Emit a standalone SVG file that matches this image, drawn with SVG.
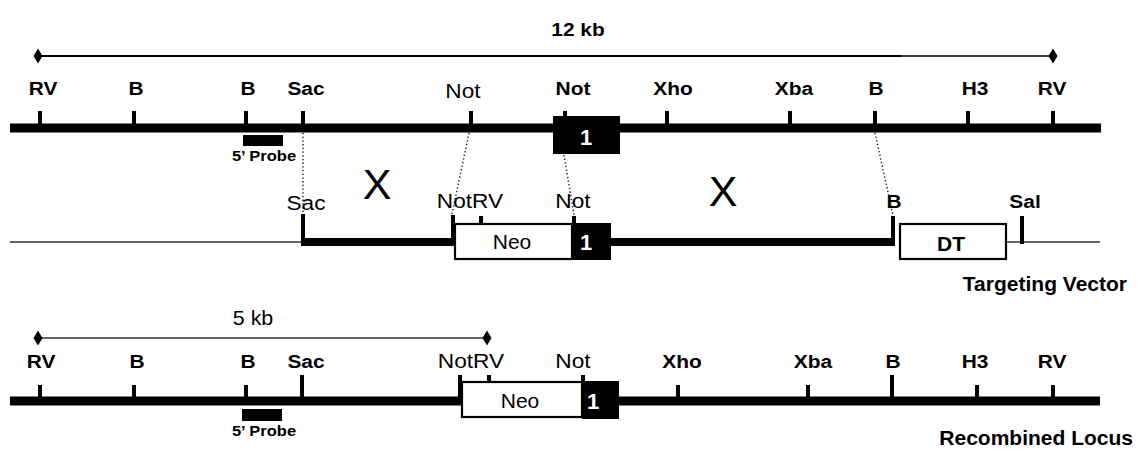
<svg xmlns="http://www.w3.org/2000/svg" width="1140" height="453" viewBox="0 0 1140 453">
<defs>
<style>
text{font-family:"Liberation Sans",Arial,sans-serif;fill:#000;text-anchor:middle}
.lb{font-size:19px;font-weight:bold}
.lr{font-size:21px}
.sm{font-size:15px;font-weight:bold}
.ttl{font-size:21px;font-weight:bold;text-anchor:end}
.xx{font-size:43px}
.neo{font-size:21px}
.ex{font-size:22px;font-weight:bold;fill:#fff}
.tk{stroke:#000;stroke-width:4}
.dna{stroke:#000;stroke-width:9}
.vec{stroke:#000;stroke-width:8}
.thin{stroke:#333;stroke-width:1.5}
.dot{stroke:#222;stroke-width:1.5;stroke-dasharray:1.3 2.4;fill:none}
.box{fill:#fff;stroke:#000;stroke-width:2.2}
</style>
<marker id="dia" viewBox="-5 -8 10 16" markerWidth="10" markerHeight="16" refX="0" refY="0" markerUnits="userSpaceOnUse" orient="auto">
<path d="M0,-7.5 L4.5,0 L0,7.5 L-4.5,0 Z" fill="#000"/>
</marker>
</defs>

<g id="wildtype-locus">
<text class="lb" transform="translate(578 36) scale(1.1 1)">12 kb</text>
<line stroke="#000" stroke-width="2.2" x1="38" y1="56" x2="901" y2="56" marker-start="url(#dia)"/>
<line stroke="#000" stroke-width="1.3" x1="900" y1="56" x2="1053" y2="56" marker-end="url(#dia)"/>
<line class="dna" x1="10" y1="128" x2="1101" y2="128"/>
<g id="wt-ticks">
<line class="tk" x1="40" y1="111" x2="40" y2="128"/>
<line class="tk" x1="134" y1="111" x2="134" y2="128"/>
<line class="tk" x1="246" y1="111" x2="246" y2="128"/>
<line class="tk" x1="303" y1="111" x2="303" y2="128"/>
<line class="tk" x1="471" y1="111" x2="471" y2="128"/>
<line class="tk" x1="565" y1="111" x2="565" y2="118"/>
<line class="tk" x1="667" y1="111" x2="667" y2="128"/>
<line class="tk" x1="790" y1="111" x2="790" y2="128"/>
<line class="tk" x1="875" y1="111" x2="875" y2="128"/>
<line class="tk" x1="968" y1="111" x2="968" y2="128"/>
<line class="tk" x1="1053" y1="111" x2="1053" y2="128"/>
</g>
<g id="wt-labels">
<text class="lb" transform="translate(43 95) scale(1.1 1)">RV</text>
<text class="lb" transform="translate(136 95) scale(1.1 1)">B</text>
<text class="lb" transform="translate(248 95) scale(1.1 1)">B</text>
<text class="lb" transform="translate(306 95) scale(1.1 1)">Sac</text>
<text class="lr" transform="translate(463 98) scale(1.08 1)">Not</text>
<text class="lb" transform="translate(573 95) scale(1.1 1)">Not</text>
<text class="lb" transform="translate(673 95) scale(1.1 1)">Xho</text>
<text class="lb" transform="translate(794 95) scale(1.1 1)">Xba</text>
<text class="lb" transform="translate(876 95) scale(1.1 1)">B</text>
<text class="lb" transform="translate(975 95) scale(1.1 1)">H3</text>
<text class="lb" transform="translate(1052 95) scale(1.1 1)">RV</text>
</g>
<g id="wt-exon1">
<rect x="553" y="116" width="67" height="38" fill="#000"/>
<text class="ex" x="586" y="145">1</text>
</g>
<g id="wt-probe">
<rect x="243" y="135" width="40" height="11" fill="#000"/>
<text class="sm" transform="translate(264 161) scale(1.1 1)">5’ Probe</text>
</g>
</g>

<g id="connectors">
<line class="dot" x1="303" y1="133" x2="303" y2="214"/>
<line class="dot" x1="469" y1="133" x2="452" y2="214"/>
<line class="dot" x1="564" y1="155" x2="574" y2="215"/>
<line class="dot" x1="875" y1="133" x2="893" y2="215"/>
</g>

<g id="crossovers">
<text class="xx" x="377" y="199">X</text>
<text class="xx" x="723" y="206">X</text>
</g>

<g id="targeting-vector">
<line class="thin" x1="10" y1="242" x2="303" y2="242"/>
<line class="thin" x1="1006" y1="242" x2="1100" y2="242"/>
<line class="vec" x1="301" y1="242" x2="456" y2="242"/>
<line class="vec" x1="610" y1="242" x2="895" y2="242"/>
<line class="tk" x1="303" y1="214" x2="303" y2="246"/>
<line class="tk" x1="453" y1="215" x2="453" y2="246"/>
<line class="tk" x1="481" y1="216" x2="481" y2="225"/>
<line class="tk" x1="574" y1="216" x2="574" y2="224"/>
<line class="tk" x1="893" y1="216" x2="893" y2="246"/>
<line class="tk" x1="1022" y1="216" x2="1022" y2="244"/>
<g id="tv-neo">
<rect class="box" x="455" y="224" width="117" height="35"/>
<text class="neo" x="512" y="249">Neo</text>
</g>
<g id="tv-exon1">
<rect x="572" y="223" width="39" height="37" fill="#000"/>
<text class="ex" x="586" y="250">1</text>
</g>
<g id="tv-dt">
<rect class="box" x="900" y="224" width="106" height="35"/>
<text class="neo" font-weight="bold" x="951" y="251">DT</text>
</g>
<text class="lr" transform="translate(306 210) scale(1.08 1)">Sac</text>
<text class="lr" transform="translate(470 208) scale(1.08 1)">NotRV</text>
<text class="lr" transform="translate(573 208) scale(1.08 1)">Not</text>
<text class="lb" transform="translate(894 208) scale(1.1 1)">B</text>
<text class="lb" transform="translate(1025 208) scale(1.1 1)">Sal</text>
<text class="ttl" x="1127" y="291">Targeting Vector</text>
</g>

<g id="recombined-locus">
<text class="lr" transform="translate(253 325) scale(1.02 1)">5 kb</text>
<line stroke="#333" stroke-width="1.5" x1="38" y1="338" x2="487" y2="338" marker-start="url(#dia)" marker-end="url(#dia)"/>
<line class="dna" x1="10" y1="401" x2="1100" y2="401"/>
<g id="rc-ticks">
<line class="tk" x1="40" y1="385" x2="40" y2="401"/>
<line class="tk" x1="134" y1="385" x2="134" y2="401"/>
<line class="tk" x1="246" y1="385" x2="246" y2="401"/>
<line class="tk" x1="302" y1="375" x2="302" y2="401"/>
<line class="tk" x1="460" y1="375" x2="460" y2="405"/>
<line class="tk" x1="489" y1="375" x2="489" y2="383"/>
<line class="tk" x1="583" y1="375" x2="583" y2="382"/>
<line class="tk" x1="678" y1="385" x2="678" y2="401"/>
<line class="tk" x1="808" y1="385" x2="808" y2="401"/>
<line class="tk" x1="892" y1="375" x2="892" y2="401"/>
<line class="tk" x1="977" y1="385" x2="977" y2="401"/>
<line class="tk" x1="1053" y1="385" x2="1053" y2="401"/>
</g>
<g id="rc-neo">
<rect class="box" x="462" y="382" width="120" height="35"/>
<text class="neo" x="520" y="408">Neo</text>
</g>
<g id="rc-exon1">
<rect x="582" y="381" width="37" height="38" fill="#000"/>
<text class="ex" x="593" y="409">1</text>
</g>
<g id="rc-probe">
<rect x="242" y="409" width="40" height="12" fill="#000"/>
<text class="sm" transform="translate(264 436) scale(1.1 1)">5’ Probe</text>
</g>
<g id="rc-labels">
<text class="lb" transform="translate(41 368) scale(1.1 1)">RV</text>
<text class="lb" transform="translate(137 368) scale(1.1 1)">B</text>
<text class="lb" transform="translate(248 368) scale(1.1 1)">B</text>
<text class="lb" transform="translate(306 368) scale(1.1 1)">Sac</text>
<text class="lr" transform="translate(471 368) scale(1.08 1)">NotRV</text>
<text class="lr" transform="translate(573 368) scale(1.08 1)">Not</text>
<text class="lb" transform="translate(682 368) scale(1.1 1)">Xho</text>
<text class="lb" transform="translate(813 368) scale(1.1 1)">Xba</text>
<text class="lb" transform="translate(893 368) scale(1.1 1)">B</text>
<text class="lb" transform="translate(975 368) scale(1.1 1)">H3</text>
<text class="lb" transform="translate(1052 368) scale(1.1 1)">RV</text>
</g>
<text class="ttl" x="1133" y="445">Recombined Locus</text>
</g>
</svg>
